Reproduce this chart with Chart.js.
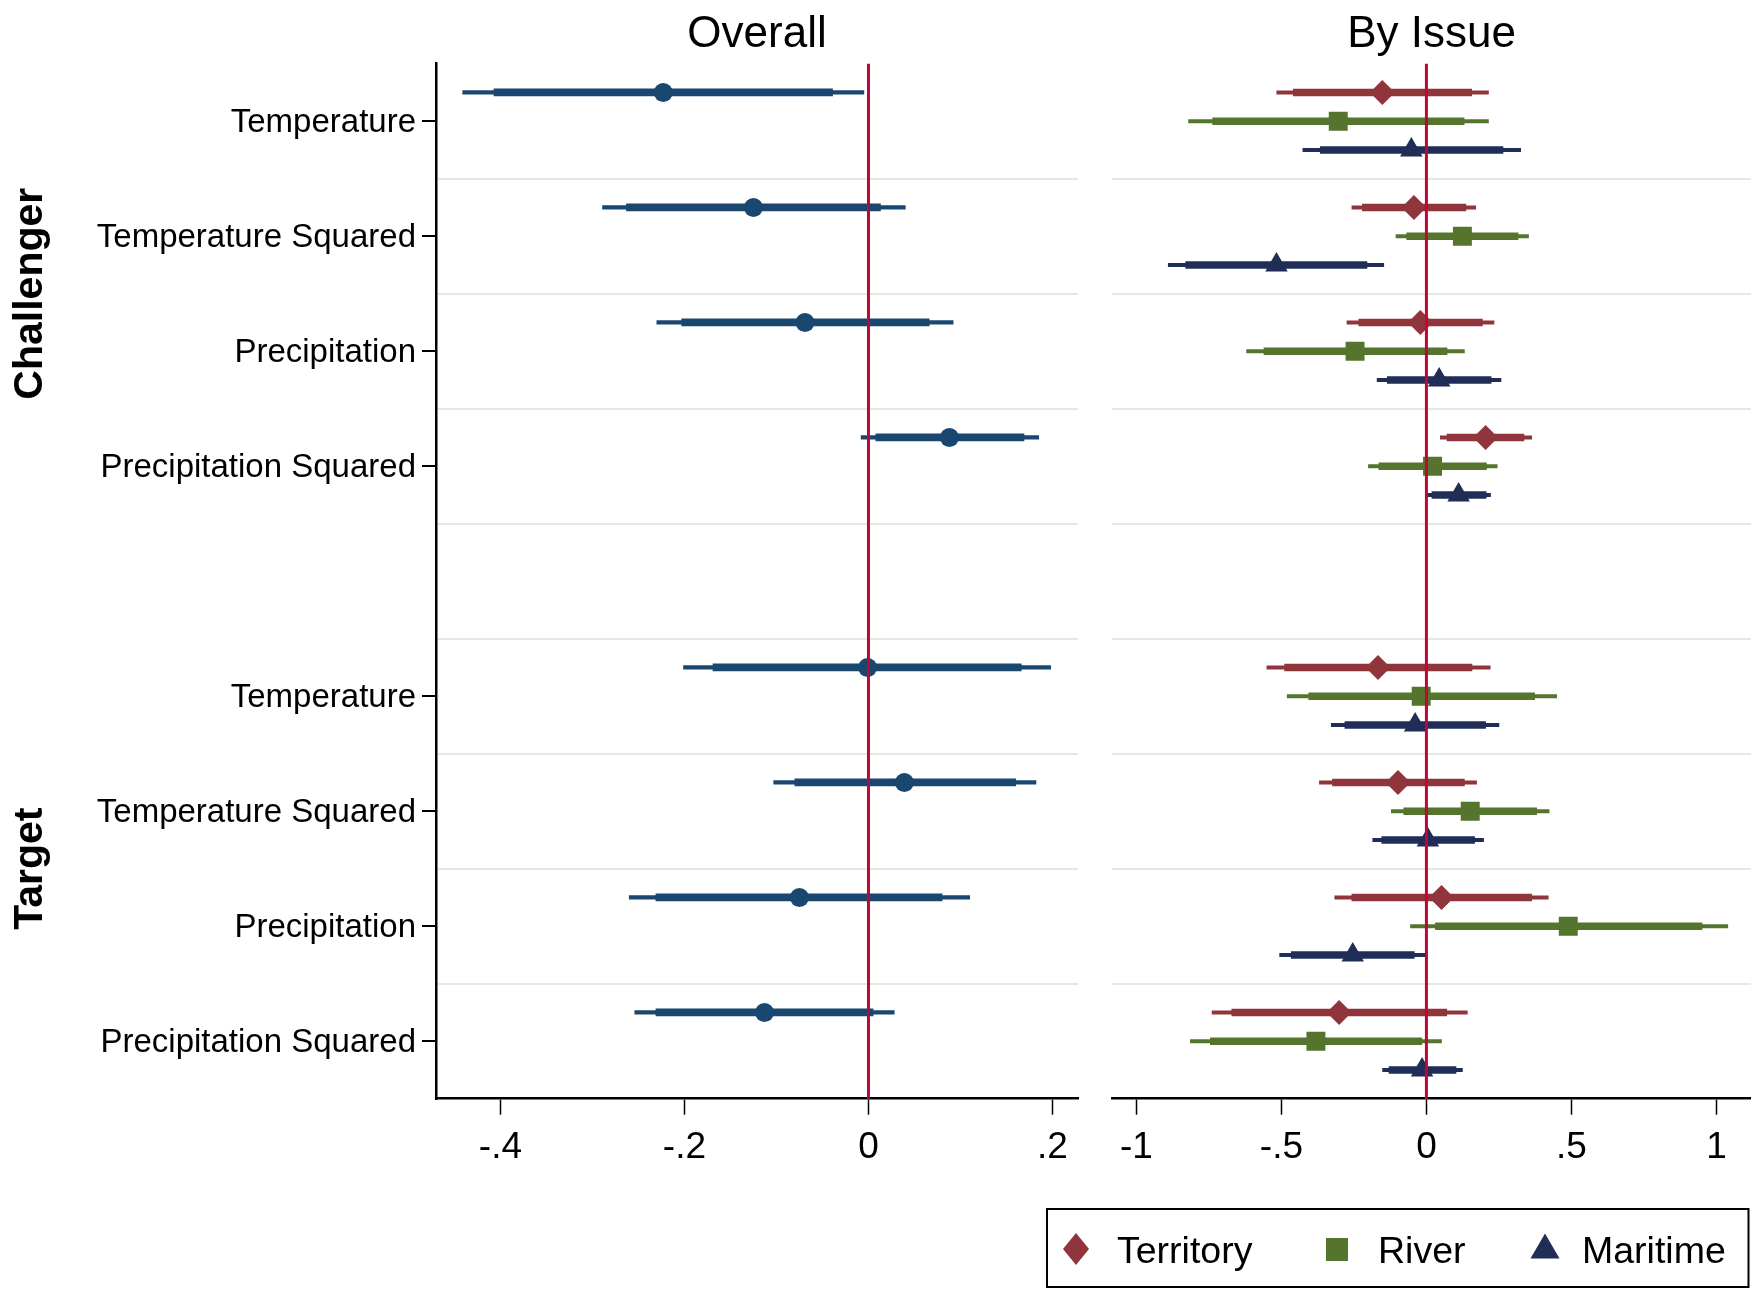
<!DOCTYPE html>
<html>
<head>
<meta charset="utf-8">
<script src="https://cdn.jsdelivr.net/npm/chart.js@4.4.1/dist/chart.umd.min.js"></script>
<style>
html,body{margin:0;padding:0;background:#fff;}
#wrap{position:relative;width:1751px;height:1289px;overflow:hidden;background:#fff;}
#c1{position:absolute;left:0;top:0;width:1090px;height:1289px;}
#c2{position:absolute;left:1040px;top:0;width:711px;height:1289px;}
</style>
</head>
<body>
<div id="wrap">
<canvas id="c1" width="1090" height="1289"></canvas>
<canvas id="c2" width="711" height="1289"></canvas>
</div>
<script>
// ---------------- DATA ----------------
const rowLabels = ['Temperature', 'Temperature Squared', 'Precipitation', 'Precipitation Squared', '',
                   'Temperature', 'Temperature Squared', 'Precipitation', 'Precipitation Squared'];
const groupLabels = ['Challenger', 'Target'];
const panelTitles = ['Overall', 'By Issue'];

const overallTicks = [-0.4, -0.2, 0, 0.2];
const overallTickLabels = ['-.4', '-.2', '0', '.2'];
const issueTicks = [-1, -0.5, 0, 0.5, 1];
const issueTickLabels = ['-1', '-.5', '0', '.5', '1'];

// Overall (one estimate per row; row 4 is the empty spacer)
const overallEst  = [-0.223, -0.125, -0.069, 0.088, null, -0.001, 0.039, -0.075, -0.113];
const overallLo95 = [-0.441, -0.289, -0.230, -0.008, null, -0.201, -0.103, -0.260, -0.254];
const overallLo90 = [-0.407, -0.263, -0.203, 0.008, null, -0.169, -0.080, -0.231, -0.231];
const overallHi90 = [-0.039, 0.013, 0.066, 0.169, null, 0.166, 0.160, 0.080, 0.005];
const overallHi95 = [-0.005, 0.040, 0.092, 0.185, null, 0.198, 0.182, 0.110, 0.028];

const seriesNames = ['Territory', 'River', 'Maritime'];

const territoryEst  = [-0.152, -0.043, -0.021, 0.204, null, -0.167, -0.098, 0.052, -0.301];
const territoryLo95 = [-0.516, -0.257, -0.274, 0.048, null, -0.550, -0.369, -0.316, -0.739];
const territoryLo90 = [-0.459, -0.221, -0.233, 0.071, null, -0.489, -0.324, -0.257, -0.671];
const territoryHi90 = [0.156, 0.136, 0.193, 0.336, null, 0.157, 0.131, 0.363, 0.070];
const territoryHi95 = [0.214, 0.170, 0.233, 0.363, null, 0.220, 0.173, 0.420, 0.141];

const riverEst  = [-0.304, 0.124, -0.246, 0.021, null, -0.018, 0.151, 0.489, -0.381];
const riverLo95 = [-0.820, -0.105, -0.620, -0.200, null, -0.480, -0.121, -0.055, -0.814];
const riverLo90 = [-0.737, -0.068, -0.560, -0.164, null, -0.406, -0.078, 0.031, -0.745];
const riverHi90 = [0.130, 0.316, 0.071, 0.207, null, 0.373, 0.380, 0.950, -0.016];
const riverHi95 = [0.214, 0.352, 0.131, 0.244, null, 0.449, 0.423, 1.039, 0.052];

const maritimeEst  = [-0.052, -0.517, 0.044, 0.111, null, -0.039, 0.005, -0.254, -0.015];
const maritimeLo95 = [-0.426, -0.890, -0.170, 0.004, null, -0.328, -0.185, -0.506, -0.151];
const maritimeLo90 = [-0.366, -0.830, -0.135, 0.019, null, -0.281, -0.154, -0.466, -0.129];
const maritimeHi90 = [0.264, -0.205, 0.223, 0.206, null, 0.204, 0.166, -0.042, 0.102];
const maritimeHi95 = [0.325, -0.147, 0.257, 0.221, null, 0.250, 0.197, -0.001, 0.124];

// ---------------- STYLE ----------------
const FAMILY = '"Liberation Sans", Arial, Helvetica, sans-serif';
const NAVY = '#1A476F';
const RED = '#C10534';
const GRID = '#E6E6E6';
const CLEAR = 'rgba(0,0,0,0)';
const seriesColors = ['#90353B', '#55752F', '#1F2D57'];
const seriesMarkers = ['rectRot', 'rect', 'triangle'];
const seriesRadius = [12.5, 13.4, 13];
const seriesOffsets = [-0.25, 0, 0.25];

const TOP = 63.7;
const BOTTOM_AXIS_H = 1289 - 1098.7;

const issueSeries = [
  {est: territoryEst, lo95: territoryLo95, lo90: territoryLo90, hi90: territoryHi90, hi95: territoryHi95},
  {est: riverEst, lo95: riverLo95, lo90: riverLo90, hi90: riverHi90, hi95: riverHi95},
  {est: maritimeEst, lo95: maritimeLo95, lo90: maritimeLo90, hi90: maritimeHi90, hi95: maritimeHi95}
];

function rowsOf(arr) { const r = []; arr.forEach((v, i) => { if (v !== null) r.push(i); }); return r; }

function makeDatasets(s, color, marker, radius, off, thin, thick, label) {
  const rows = rowsOf(s.est);
  const pos = i => i + 0.5 + off;
  return [
    {type: 'bar', label: label + ' 95', data: rows.map(i => ({y: pos(i), x: [s.lo95[i], s.hi95[i]]})),
     backgroundColor: color, borderWidth: 0, barThickness: thin, maxBarThickness: thin, grouped: false, order: 3},
    {type: 'bar', label: label + ' 90', data: rows.map(i => ({y: pos(i), x: [s.lo90[i], s.hi90[i]]})),
     backgroundColor: color, borderWidth: 0, barThickness: thick, maxBarThickness: thick, grouped: false, order: 2},
    {type: 'scatter', label: label, data: rows.map(i => ({x: s.est[i], y: pos(i)})),
     pointStyle: marker, pointRadius: radius, pointBackgroundColor: color, backgroundColor: color,
     pointBorderWidth: 0, borderWidth: 0, order: 1}
  ];
}

const zeroLine = {
  id: 'zeroLine',
  afterDatasetsDraw(chart) {
    const {ctx, chartArea: a, scales: {x}} = chart;
    const px = x.getPixelForValue(0);
    ctx.save();
    ctx.strokeStyle = RED; ctx.lineWidth = 3;
    ctx.beginPath(); ctx.moveTo(px, a.top); ctx.lineTo(px, a.bottom); ctx.stroke();
    ctx.restore();
  }
};

function titlePlugin(text) {
  return {
    id: 'panelTitle',
    afterDraw(chart) {
      const {ctx, chartArea: a} = chart;
      ctx.save();
      ctx.font = '44px ' + FAMILY; ctx.fillStyle = '#000';
      ctx.textAlign = 'center'; ctx.textBaseline = 'alphabetic';
      ctx.fillText(text, (a.left + a.right) / 2, 47);
      ctx.restore();
    }
  };
}

const groupPlugin = {
  id: 'groupLabels',
  afterDraw(chart) {
    const {ctx, scales: {y}} = chart;
    const centers = [y.getPixelForValue(2), y.getPixelForValue(7)];
    ctx.save();
    ctx.font = 'bold 41px ' + FAMILY; ctx.fillStyle = '#000';
    ctx.textAlign = 'center'; ctx.textBaseline = 'middle';
    groupLabels.forEach((g, k) => {
      ctx.save(); ctx.translate(31, centers[k]); ctx.rotate(-Math.PI / 2);
      ctx.fillText(g, 0, 0); ctx.restore();
    });
    ctx.restore();
  }
};

function drawMarker(ctx, style, x, y, w, h) {
  ctx.beginPath();
  if (style === 'rectRot') { ctx.moveTo(x, y - h / 2); ctx.lineTo(x + w / 2, y); ctx.lineTo(x, y + h / 2); ctx.lineTo(x - w / 2, y); }
  else if (style === 'rect') { ctx.rect(x - w / 2, y - h / 2, w, h); }
  else { ctx.moveTo(x, y - h / 2); ctx.lineTo(x + w / 2, y + h / 2); ctx.lineTo(x - w / 2, y + h / 2); }
  ctx.closePath(); ctx.fill();
}

const legendPlugin = {
  id: 'boxLegend',
  afterDraw(chart) {
    const ctx = chart.ctx;
    const box = {l: 7, t: 1209, r: 708.5, b: 1287};
    const mx = [36, 297, 505], tx = [77, 338, 542];
    const msz = [[26, 32, 1249], [22, 23, 1249.5], [29, 25, 1246]];
    ctx.save();
    ctx.strokeStyle = '#000'; ctx.lineWidth = 2;
    ctx.strokeRect(box.l, box.t, box.r - box.l, box.b - box.t);
    ctx.font = '37.5px ' + FAMILY; ctx.textBaseline = 'alphabetic'; ctx.textAlign = 'left';
    seriesNames.forEach((n, k) => {
      ctx.fillStyle = seriesColors[k];
      drawMarker(ctx, seriesMarkers[k], mx[k], msz[k][2], msz[k][0], msz[k][1]);
      ctx.fillStyle = '#000';
      ctx.fillText(n, tx[k], 1263);
    });
    ctx.restore();
  }
};

function yTicksBuilder(s) {
  s.ticks = [];
  for (let i = 0; i <= 18; i++) s.ticks.push({value: i / 2});
}
const tickVal = c => (c && c.tick) ? c.tick.value : null;
const isBoundary = v => v !== null && Number.isInteger(v) && v > 0 && v < 9;
const isLabelTick = v => v !== null && !Number.isInteger(v) && rowLabels[Math.floor(v)] !== '';
const xFit = s => { s.height = BOTTOM_AXIS_H; s.paddingLeft = 0; s.paddingRight = 0; };

// ---------------- LEFT: Overall ----------------
new Chart(document.getElementById('c1'), {
  type: 'bar',
  data: {datasets: makeDatasets({est: overallEst, lo95: overallLo95, lo90: overallLo90, hi90: overallHi90, hi95: overallHi95},
                                NAVY, 'circle', 9.5, -0.25, 3.5, 7, 'Overall')},
  options: {
    indexAxis: 'y', responsive: false, animation: false, events: [],
    layout: {autoPadding: false, padding: {top: TOP, right: 12, bottom: 0, left: 0}},
    plugins: {legend: {display: false}, tooltip: {enabled: false}},
    scales: {
      x: {
        type: 'linear', min: -0.470, max: 0.2277, offset: false,
        afterBuildTicks: s => { s.ticks = overallTicks.map(v => ({value: v})); },
        ticks: {autoSkip: false, maxRotation: 0, padding: 11, color: '#000',
                font: {size: 37, family: FAMILY}, callback: (v, i) => overallTickLabels[i]},
        grid: {offset: false, drawOnChartArea: false, drawTicks: true, tickLength: 16, tickWidth: 1.5, tickColor: '#000'},
        border: {display: true, color: '#000', width: 2.5},
        afterFit: xFit
      },
      y: {
        type: 'linear', min: 0, max: 9, reverse: true, offset: false,
        afterBuildTicks: yTicksBuilder,
        ticks: {autoSkip: false, padding: 6, labelOffset: 2, color: '#000', font: {size: 33, family: FAMILY},
                callback: v => (Number.isInteger(v) ? '' : rowLabels[Math.floor(v)])},
        grid: {
          offset: false,
          color: c => isBoundary(tickVal(c)) ? GRID : CLEAR,
          lineWidth: 2,
          tickColor: c => isLabelTick(tickVal(c)) ? '#000' : CLEAR,
          tickLength: 14, tickWidth: 2
        },
        border: {display: true, color: '#000', width: 2.5},
        afterFit: s => { s.width = 436; }
      }
    }
  },
  plugins: [zeroLine, titlePlugin(panelTitles[0]), groupPlugin]
});

// ---------------- RIGHT: By Issue ----------------
let issueDatasets = [];
issueSeries.forEach((s, k) => {
  issueDatasets = issueDatasets.concat(
    makeDatasets(s, seriesColors[k], seriesMarkers[k], seriesRadius[k], seriesOffsets[k], 3.2, 6.7, seriesNames[k]));
});

new Chart(document.getElementById('c2'), {
  type: 'bar',
  data: {datasets: issueDatasets},
  options: {
    indexAxis: 'y', responsive: false, animation: false, events: [],
    layout: {autoPadding: false, padding: {top: TOP, right: 0, bottom: 0, left: 72}},
    plugins: {legend: {display: false}, tooltip: {enabled: false}},
    scales: {
      x: {
        type: 'linear', min: -1.084, max: 1.119, offset: false,
        afterBuildTicks: s => { s.ticks = issueTicks.map(v => ({value: v})); },
        ticks: {autoSkip: false, maxRotation: 0, padding: 11, color: '#000',
                font: {size: 37, family: FAMILY}, callback: (v, i) => issueTickLabels[i]},
        grid: {offset: false, drawOnChartArea: false, drawTicks: true, tickLength: 16, tickWidth: 1.5, tickColor: '#000'},
        border: {display: true, color: '#000', width: 2.5},
        afterFit: xFit
      },
      y: {
        type: 'linear', min: 0, max: 9, reverse: true, offset: false,
        afterBuildTicks: yTicksBuilder,
        ticks: {display: false},
        grid: {offset: false, color: c => isBoundary(tickVal(c)) ? GRID : CLEAR, lineWidth: 2, drawTicks: false},
        border: {display: false},
        afterFit: s => { s.width = 0; }
      }
    }
  },
  plugins: [zeroLine, titlePlugin(panelTitles[1]), legendPlugin]
});
</script>
</body>
</html>
